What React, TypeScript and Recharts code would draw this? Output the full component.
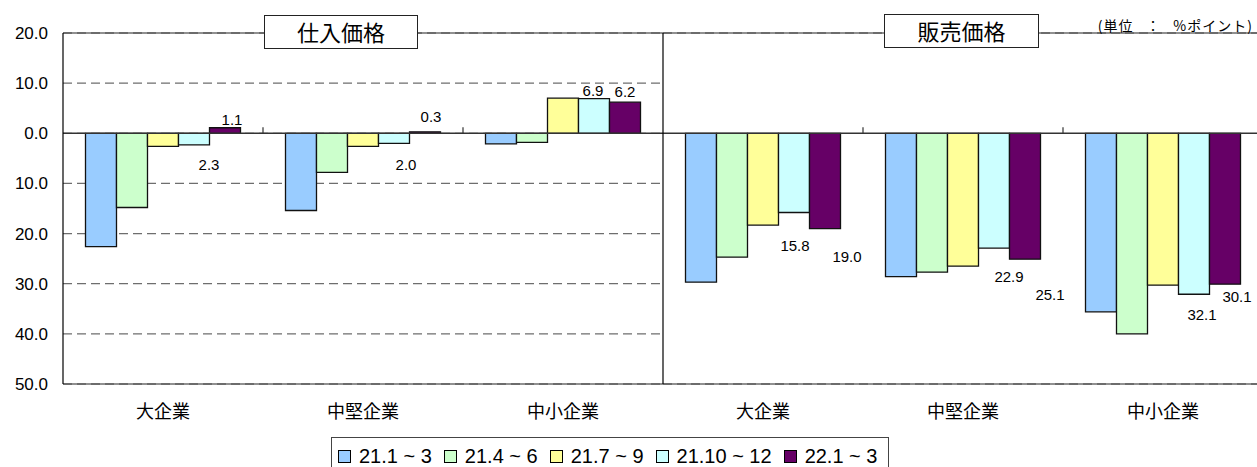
import React from 'react';
import { BarChart, Bar, XAxis, YAxis, CartesianGrid, ReferenceLine, LabelList } from 'recharts';

// 企業規模別 仕入価格・販売価格 DI（%ポイント）

const companies = ['大企業', '中堅企業', '中小企業'];
const periods = ['21.1 ~ 3', '21.4 ~ 6', '21.7 ~ 9', '21.10 ~ 12', '22.1 ~ 3'];
const colors = ['#99ccff', '#ccffcc', '#ffff99', '#ccffff', '#660066'];
const yTicks = [20, 10, 0, -10, -20, -30, -40, -50];

// 仕入価格（大企業, 中堅企業, 中小企業）
const shiire_2101 = [-22.6, -15.4, -2.1];
const shiire_2104 = [-14.8, -7.8, -1.8];
const shiire_2107 = [-2.6, -2.6, 7.0];
const shiire_2110 = [-2.3, -2.0, 6.9];
const shiire_2201 = [1.1, 0.3, 6.2];

// 販売価格（大企業, 中堅企業, 中小企業）
const hanbai_2101 = [-29.7, -28.6, -35.6];
const hanbai_2104 = [-24.7, -27.7, -40.0];
const hanbai_2107 = [-18.3, -26.5, -30.3];
const hanbai_2110 = [-15.8, -22.9, -32.1];
const hanbai_2201 = [-19.0, -25.1, -30.1];

const keys = ['p0', 'p1', 'p2', 'p3', 'p4'];

const buildRows = (series: number[][]) =>
  companies.map((name, i) => {
    const row: Record<string, any> = { name };
    series.forEach((s, k) => (row[keys[k]] = s[i]));
    return row;
  });

const shiireRows = buildRows([shiire_2101, shiire_2104, shiire_2107, shiire_2110, shiire_2201]);
const hanbaiRows = buildRows([hanbai_2101, hanbai_2104, hanbai_2107, hanbai_2110, hanbai_2201]);

// ラベル位置の微調整 [dx, dy]（棒の端から）
const shiireNudge: Record<string, number[][]> = {
  p3: [[15, 20], [12, 21], [-1, -8]],
  p4: [[7, -8], [6, -15], [0, -11]],
};
const hanbaiNudge: Record<string, number[][]> = {
  p3: [[1, 33], [15, 28], [8, 20]],
  p4: [[22, 28], [25, 35], [12, 12]],
};

const ARIAL = '"Liberation Sans", Arial, sans-serif';
const CJK = '"Noto Sans CJK JP", "Noto Sans", sans-serif';

const makeLabel = (nudge: number[][]) => (props: any) => {
  const { x, y, width, height, value, index } = props;
  const top = Math.min(y, y + height);
  const bottom = Math.max(y, y + height);
  const [dx, dy] = nudge[index] ?? [0, 0];
  const cy = (value >= 0 ? top : bottom) + dy;
  return (
    <text
      x={x + width / 2 + dx}
      y={cy}
      textAnchor="middle"
      dominantBaseline="central"
      fontSize={15}
      fontFamily={ARIAL}
      fill="#000"
    >
      {Math.abs(value).toFixed(1)}
    </text>
  );
};

// 0 の線と区切りの目盛り
const ZeroLine = (props: any) => {
  const { x1, y1, x2, y2 } = props;
  const n = companies.length;
  const marks = [];
  for (let k = 1; k < n; k++) {
    const x = x1 + ((x2 - x1) * k) / n;
    marks.push(<line key={k} x1={x} x2={x} y1={y1 - 6} y2={y1} stroke="#333" strokeWidth={1.2} />);
  }
  return (
    <g>
      <line x1={x1} y1={y1} x2={x2} y2={y2} stroke="#333" strokeWidth={1.5} />
      {marks}
    </g>
  );
};

function Panel({ rows, nudge, width, yWidth, showTicks }: any) {
  return (
    <BarChart
      width={width}
      height={467}
      data={rows}
      margin={{ top: 33, right: 0, left: 0, bottom: 43 }}
      barCategoryGap="11.25%"
      barGap={0}
    >
      <CartesianGrid vertical={false} strokeDasharray="9 5" stroke="#6e6e6e" strokeWidth={1.2} />
      <XAxis
        dataKey="name"
        height={40}
        tickLine={false}
        axisLine={false}
        tickSize={0}
        tickMargin={21}
        tick={{ fontSize: 18, fill: '#000', fontFamily: CJK }}
      />
      <YAxis
        width={yWidth}
        domain={[-50, 20]}
        ticks={yTicks}
        interval={0}
        tickLine={false}
        tickSize={6}
        tickMargin={9}
        axisLine={{ stroke: '#000', strokeWidth: 1.2 }}
        tick={showTicks ? { fontSize: 17, fill: '#000', fontFamily: ARIAL } : false}
        tickFormatter={(v: number) => Math.abs(v).toFixed(1)}
      />
      {keys.map((k, i) => (
        <Bar key={k} dataKey={k} name={periods[i]} fill={colors[i]} stroke="#111" strokeWidth={1.3} isAnimationActive={false}>
          {nudge[k] && <LabelList dataKey={k} content={makeLabel(nudge[k])} />}
        </Bar>
      ))}
      <ReferenceLine y={20} stroke="#222" strokeWidth={1.2} />
      <ReferenceLine y={-50} stroke="#222" strokeWidth={1.2} />
      <ReferenceLine y={0} shape={ZeroLine} />
    </BarChart>
  );
}

const titleBox = (left: number, top: number, width: number, text: string) => (
  <div
    style={{
      position: 'absolute',
      left,
      top,
      width,
      height: 34,
      boxSizing: 'border-box',
      border: '1.5px solid #222',
      background: '#fff',
      textAlign: 'center',
      lineHeight: '31px',
      fontSize: 22,
      fontFamily: CJK,
      color: '#000',
    }}
  >
    {text}
  </div>
);

export default function App() {
  return (
    <div
      style={{
        position: 'absolute',
        left: 0,
        top: 0,
        width: 1257,
        height: 467,
        overflow: 'hidden',
        background: '#fff',
      }}
    >
      <div style={{ position: 'absolute', left: 0, top: 0 }}>
        <Panel rows={shiireRows} nudge={shiireNudge} width={663} yWidth={63} showTicks />
      </div>
      <div style={{ position: 'absolute', left: 662, top: 0 }}>
        <Panel rows={hanbaiRows} nudge={hanbaiNudge} width={601} yWidth={1} showTicks={false} />
      </div>

      {titleBox(264, 15, 154, '仕入価格')}
      {titleBox(884, 14, 155, '販売価格')}

      <div
        style={{
          position: 'absolute',
          right: 4,
          top: 18,
          fontSize: 14,
          lineHeight: '14px',
          letterSpacing: '1px',
          fontFamily: CJK,
          whiteSpace: 'pre',
          color: '#000',
          background: '#fff',
        }}
      >
        {'(単位   ：   %ポイント)'}
      </div>

      <div
        style={{
          position: 'absolute',
          left: 331,
          top: 437,
          width: 558,
          height: 40,
          boxSizing: 'border-box',
          border: '1px solid #444',
          background: '#fff',
          display: 'flex',
          alignItems: 'flex-start',
          paddingTop: 8,
          paddingLeft: 6,
          fontFamily: ARIAL,
          fontSize: 20,
          lineHeight: '20px',
          color: '#000',
        }}
      >
        {periods.map((p, i) => (
          <span key={p} style={{ display: 'flex', alignItems: 'center', marginRight: 12 }}>
            <span
              style={{
                display: 'inline-block',
                width: 13,
                height: 13,
                boxSizing: 'border-box',
                border: '1px solid #000',
                background: colors[i],
                marginRight: 8,
              }}
            />
            <span style={{ whiteSpace: 'nowrap' }}>{p}</span>
          </span>
        ))}
      </div>
    </div>
  );
}
